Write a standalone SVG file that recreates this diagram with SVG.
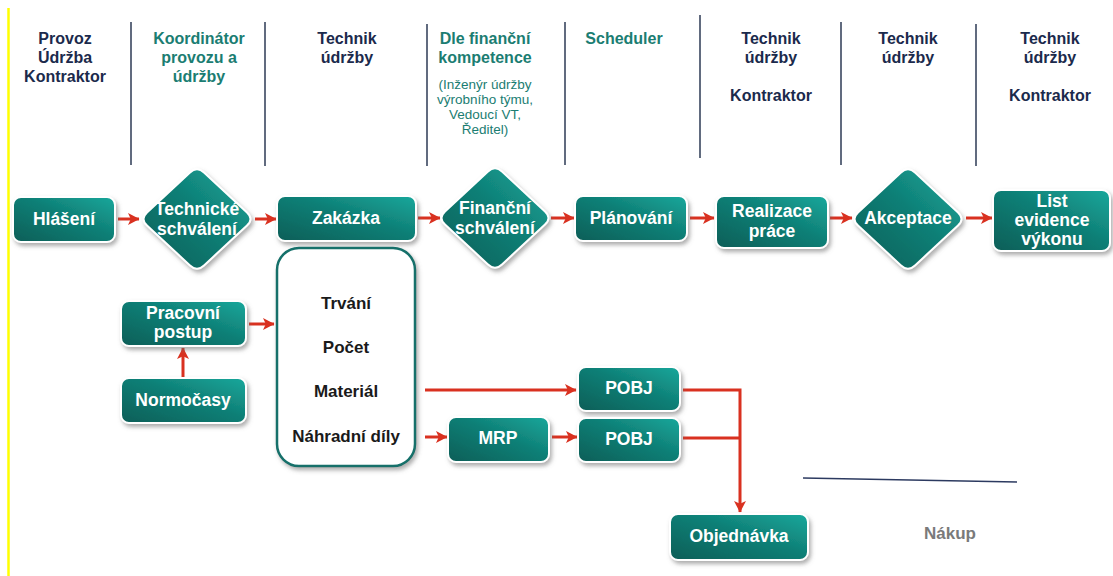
<svg xmlns="http://www.w3.org/2000/svg" width="1113" height="576" viewBox="0 0 1113 576">
  <defs>
    <linearGradient id="teal" x1="0" y1="1" x2="1" y2="0">
      <stop offset="0" stop-color="#0a5e57"/>
      <stop offset="0.55" stop-color="#0f7f76"/>
      <stop offset="1" stop-color="#19a89c"/>
    </linearGradient>
    <filter id="shadow" x="-20%" y="-20%" width="140%" height="150%">
      <feDropShadow dx="2" dy="3" stdDeviation="2" flood-color="#6a6a6a" flood-opacity="0.55"/>
    </filter>
    <marker id="arrow" markerUnits="userSpaceOnUse" markerWidth="15" markerHeight="15" viewBox="0 0 15 15" refX="13" refY="7.5" orient="auto">
      <path d="M2,1.5 L13.5,7.5 L2,13.5 L4.8,7.5 Z" fill="#d93120"/>
    </marker>
    <path id="diamond" d="M -7,-46.4 Q 0,-53 7,-46.4 L 50,-6.6 Q 57,0 50,6.6 L 7,46.4 Q 0,53 -7,46.4 L -50,6.6 Q -57,0 -50,-6.6 Z"/>
    <style>
      .node { fill: url(#teal); stroke: #ffffff; stroke-width: 2; filter: url(#shadow); }
      .lbl { font-family: "Liberation Sans", Arial, sans-serif; font-weight: bold; font-size: 17.5px; fill: #ffffff; text-anchor: middle; }
      .hdr { font-family: "Liberation Sans", Arial, sans-serif; font-weight: bold; font-size: 16px; text-anchor: middle; }
      .navy { fill: #1b2a4c; }
      .green { fill: #1b7d72; }
      .sub { font-family: "Liberation Sans", Arial, sans-serif; font-size: 13.5px; fill: #1b7d72; text-anchor: middle; }
      .item { font-family: "Liberation Sans", Arial, sans-serif; font-weight: bold; font-size: 17px; fill: #1a1a1a; text-anchor: middle; }
      .sep { stroke: #2c3a55; stroke-width: 1.5; }
      .conn { stroke: #d93120; stroke-width: 3; fill: none; }
    </style>
  </defs>

  <rect width="1113" height="576" fill="#ffffff"/>
  <!-- left margin rule -->
  <line x1="8.5" y1="8" x2="8.5" y2="576" stroke="#ffff00" stroke-width="2.5"/>

  <!-- lane separators -->
  <g id="separators">
    <line class="sep" x1="131" y1="22" x2="131" y2="165"/>
    <line class="sep" x1="265" y1="22" x2="265" y2="166"/>
    <line class="sep" x1="427" y1="24" x2="427" y2="166"/>
    <line class="sep" x1="565" y1="22" x2="565" y2="165"/>
    <line class="sep" x1="700" y1="15" x2="700" y2="158"/>
    <line class="sep" x1="841" y1="22" x2="841" y2="165"/>
    <line class="sep" x1="976" y1="24" x2="976" y2="166"/>
  </g>

  <!-- lane headers -->
  <g id="headers">
    <text class="hdr navy" x="65" y="44">Provoz</text>
    <text class="hdr navy" x="65" y="63">Údržba</text>
    <text class="hdr navy" x="65" y="82">Kontraktor</text>

    <text class="hdr green" x="199" y="44">Koordinátor</text>
    <text class="hdr green" x="199" y="63">provozu a</text>
    <text class="hdr green" x="199" y="82">údržby</text>

    <text class="hdr navy" x="347" y="44">Technik</text>
    <text class="hdr navy" x="347" y="63">údržby</text>

    <text class="hdr green" x="485" y="44">Dle finanční</text>
    <text class="hdr green" x="485" y="63">kompetence</text>
    <text class="sub" x="485" y="89">(Inženýr údržby</text>
    <text class="sub" x="485" y="104">výrobního týmu,</text>
    <text class="sub" x="485" y="119">Vedoucí VT,</text>
    <text class="sub" x="485" y="134">Ředitel)</text>

    <text class="hdr green" x="624" y="44">Scheduler</text>

    <text class="hdr navy" x="771" y="44">Technik</text>
    <text class="hdr navy" x="771" y="63">údržby</text>
    <text class="hdr navy" x="771" y="101">Kontraktor</text>

    <text class="hdr navy" x="908" y="44">Technik</text>
    <text class="hdr navy" x="908" y="63">údržby</text>

    <text class="hdr navy" x="1050" y="44">Technik</text>
    <text class="hdr navy" x="1050" y="63">údržby</text>
    <text class="hdr navy" x="1050" y="101">Kontraktor</text>
  </g>

  <!-- connectors -->
  <g id="connectors">
    <line class="conn" x1="118" y1="219" x2="139" y2="219" marker-end="url(#arrow)"/>
    <line class="conn" x1="255" y1="219" x2="276" y2="219" marker-end="url(#arrow)"/>
    <line class="conn" x1="418" y1="218" x2="440" y2="218" marker-end="url(#arrow)"/>
    <line class="conn" x1="551" y1="218" x2="574" y2="218" marker-end="url(#arrow)"/>
    <line class="conn" x1="690" y1="218" x2="714" y2="218" marker-end="url(#arrow)"/>
    <line class="conn" x1="830" y1="218" x2="852" y2="218" marker-end="url(#arrow)"/>
    <line class="conn" x1="966" y1="218" x2="992" y2="218" marker-end="url(#arrow)"/>
    <line class="conn" x1="249" y1="324" x2="274" y2="324" marker-end="url(#arrow)"/>
    <line class="conn" x1="183" y1="377" x2="183" y2="348" marker-end="url(#arrow)"/>
    <line class="conn" x1="425" y1="390" x2="576" y2="390" marker-end="url(#arrow)"/>
    <line class="conn" x1="425" y1="437" x2="447" y2="437" marker-end="url(#arrow)"/>
    <line class="conn" x1="552" y1="437" x2="577" y2="437" marker-end="url(#arrow)"/>
    <polyline class="conn" points="683,390 740,390 740,512" marker-end="url(#arrow)"/>
    <line class="conn" x1="683" y1="438" x2="740" y2="438"/>
  </g>

  <!-- main flow -->
  <g id="hlaseni">
    <rect class="node" x="13" y="197" width="102" height="45" rx="8"/>
    <text class="lbl" x="64" y="225">Hlášení</text>
  </g>
  <g id="technicke-schvaleni">
    <use href="#diamond" class="node" x="197" y="219"/>
    <text class="lbl" x="197" y="215">Technické</text>
    <text class="lbl" x="197" y="235">schválení</text>
  </g>
  <g id="zakazka">
    <rect class="node" x="277" y="196" width="139" height="45" rx="8"/>
    <text class="lbl" x="346" y="224">Zakázka</text>
  </g>
  <g id="financni-schvaleni">
    <use href="#diamond" class="node" x="495" y="218"/>
    <text class="lbl" x="495" y="214">Finanční</text>
    <text class="lbl" x="495" y="234">schválení</text>
  </g>
  <g id="planovani">
    <rect class="node" x="575" y="196" width="112" height="45" rx="8"/>
    <text class="lbl" x="631" y="224">Plánování</text>
  </g>
  <g id="realizace-prace">
    <rect class="node" x="716" y="196" width="112" height="52" rx="8"/>
    <text class="lbl" x="772" y="217">Realizace</text>
    <text class="lbl" x="772" y="237">práce</text>
  </g>
  <g id="akceptace">
    <use href="#diamond" class="node" x="908" y="219"/>
    <text class="lbl" x="908" y="224">Akceptace</text>
  </g>
  <g id="list-evidence">
    <rect class="node" x="993" y="190" width="117" height="61" rx="8"/>
    <text class="lbl" x="1052" y="207">List</text>
    <text class="lbl" x="1052" y="226">evidence</text>
    <text class="lbl" x="1052" y="245">výkonu</text>
  </g>

  <!-- order details -->
  <g id="detail">
    <rect x="277" y="248" width="138" height="218" rx="22" fill="#ffffff" stroke="#12706a" stroke-width="2.5" filter="url(#shadow)"/>
    <text class="item" x="346" y="309">Trvání</text>
    <text class="item" x="346" y="353">Počet</text>
    <text class="item" x="346" y="397">Materiál</text>
    <text class="item" x="346" y="442">Náhradní díly</text>
  </g>
  <g id="pracovni-postup">
    <rect class="node" x="121" y="301" width="125" height="45" rx="8"/>
    <text class="lbl" x="183" y="319">Pracovní</text>
    <text class="lbl" x="183" y="338">postup</text>
  </g>
  <g id="normocasy">
    <rect class="node" x="121" y="378" width="125" height="45" rx="8"/>
    <text class="lbl" x="183" y="406">Normočasy</text>
  </g>
  <g id="mrp">
    <rect class="node" x="448" y="417" width="101" height="45" rx="8"/>
    <text class="lbl" x="498" y="444">MRP</text>
  </g>
  <g id="pobj-1">
    <rect class="node" x="578" y="367" width="102" height="44" rx="8"/>
    <text class="lbl" x="629" y="394">POBJ</text>
  </g>
  <g id="pobj-2">
    <rect class="node" x="578" y="418" width="102" height="44" rx="8"/>
    <text class="lbl" x="629" y="445">POBJ</text>
  </g>
  <g id="objednavka">
    <rect class="node" x="670" y="514" width="138" height="46" rx="8"/>
    <text class="lbl" x="739" y="542">Objednávka</text>
  </g>

  <!-- purchasing lane -->
  <g id="nakup">
    <line x1="803" y1="478" x2="1017" y2="482" stroke="#2c3a60" stroke-width="1.5"/>
    <text x="950" y="539" font-family="'Liberation Sans', Arial, sans-serif" font-weight="bold" font-size="17" fill="#7a7a7a" text-anchor="middle">Nákup</text>
  </g>
</svg>
